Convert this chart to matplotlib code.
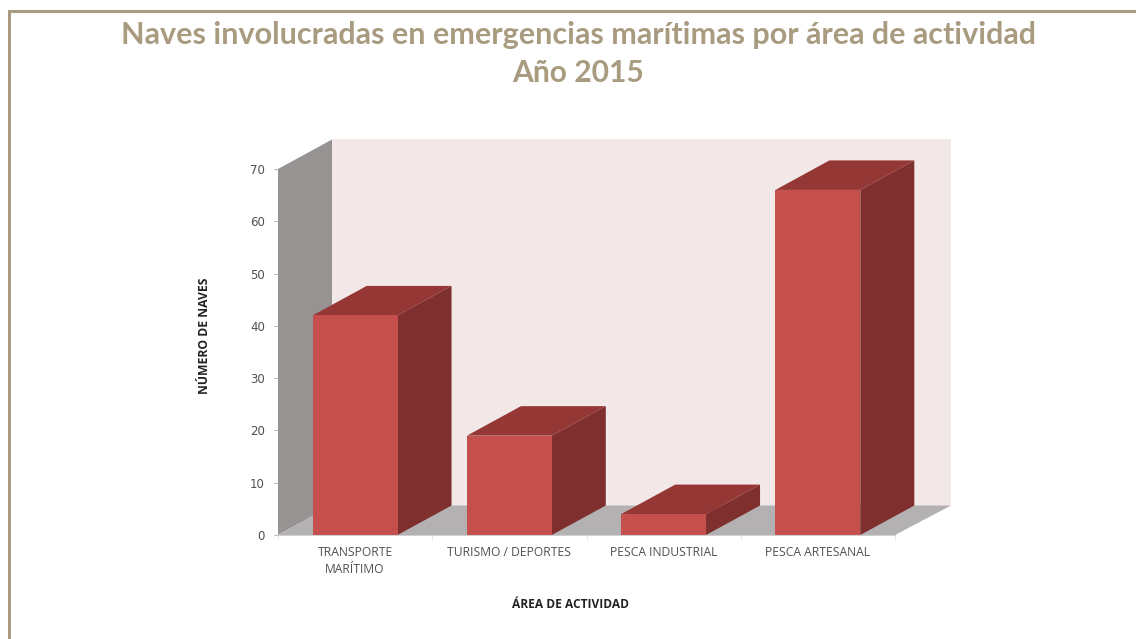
import matplotlib
matplotlib.use("Agg")
import matplotlib.pyplot as plt
from matplotlib.lines import Line2D
from matplotlib.patches import Polygon

# datos
categorias = ["TRANSPORTE\nMARÍTIMO", "TURISMO / DEPORTES", "PESCA INDUSTRIAL", "PESCA ARTESANAL"]
naves = [42, 19, 4, 66]
ticks_y = [0, 10, 20, 30, 40, 50, 60, 70]

W, H = 1136, 639
fig = plt.figure(figsize=(W / 100, H / 100), dpi=100, facecolor="white")

# marco: solo arriba y a la izquierda, llega hasta el borde de la imagen
color_marco = "#a89b7f"
fig.add_artist(Line2D([9 / W, 9 / W, 1], [0, 1 - 11 / H, 1 - 11 / H], transform=fig.transFigure,
                      color=color_marco, linewidth=2.2, solid_joinstyle="miter"))

fig.text(578.5 / W, 1 - 44 / H, "Naves involucradas en emergencias marítimas por área de actividad",
         ha="center", va="baseline", fontsize=22, fontweight="bold", family="Lato", color=color_marco)
fig.text(578.5 / W, 1 - 82 / H, "Año 2015",
         ha="center", va="baseline", fontsize=21.6, fontweight="bold", family="Lato", color=color_marco)

# ejes: y=0 en 535 px, y=70 en 169 px
ax = fig.add_axes([278 / W, 1 - 535 / H, 617 / W, 366 / H])
ax.set_xlim(0, 4)
ax.set_ylim(0, 70)
for s in ax.spines.values():
    s.set_visible(False)
ax.patch.set_alpha(0)

# profundidad del efecto 3D en unidades de datos
dx = 54 / (617 / 4)
dy = 29.5 / (366 / 70)
ancho = 0.55
extra = 2 / (617 / 4)  # la pared del fondo es un poco mas ancha


def cara(puntos, color, z=1):
    ax.add_patch(Polygon(puntos, closed=True, facecolor=color, edgecolor="none", clip_on=False, zorder=z))


# paredes y piso
cara([(dx, dy), (4 + dx + extra, dy), (4 + dx + extra, 70 + dy), (dx, 70 + dy)], "#f2e8e8")
cara([(0, 0), (dx, dy), (dx, 70 + dy), (0, 70)], "#989393")
cara([(0, 0), (4, 0), (4 + dx + extra, dy), (dx, dy)], "#b4b1b2")

for i, v in enumerate(naves):
    x0 = i + 0.5 - ancho / 2
    x1 = i + 0.5 + ancho / 2
    cara([(x0, v), (x1, v), (x1 + dx, v + dy), (x0 + dx, v + dy)], "#953735", 3)
    cara([(x1, 0), (x1 + dx, dy), (x1 + dx, v + dy), (x1, v)], "#7f2f2e", 3)
    cara([(x0, 0), (x1, 0), (x1, v), (x0, v)], "#c44f4c", 4)

ax.set_yticks(ticks_y)
ax.set_xticks([0, 1, 2, 3, 4])
ax.set_xticklabels([])
ax.tick_params(axis="y", length=3, width=0.6, color="#aaaaaa", labelsize=8.5, labelcolor="#505050", pad=6.5)
ax.tick_params(axis="x", length=3, width=0.6, color="#dddddd")
ax.plot([0, 4], [0, 0], color="#d0d0d0", lw=0.8, clip_on=False, zorder=5)

for i, c in enumerate(categorias):
    ax.text(i + 0.5, -2.1, c, ha="center", va="top", fontsize=8.7, color="#505050",
            family="Open Sans", linespacing=1.45, clip_on=False)

fig.text(570 / W, 1 - 604 / H, "ÁREA DE ACTIVIDAD", ha="center", va="center",
         fontsize=8.6, fontweight="bold", family="Open Sans", color="#222222")
fig.text(205 / W, 1 - 336 / H, "NÚMERO DE NAVES", ha="center", va="center", rotation=90,
         fontsize=8.7, fontweight="bold", family="Open Sans", color="#222222")

fig.savefig("out.png", dpi=100)
